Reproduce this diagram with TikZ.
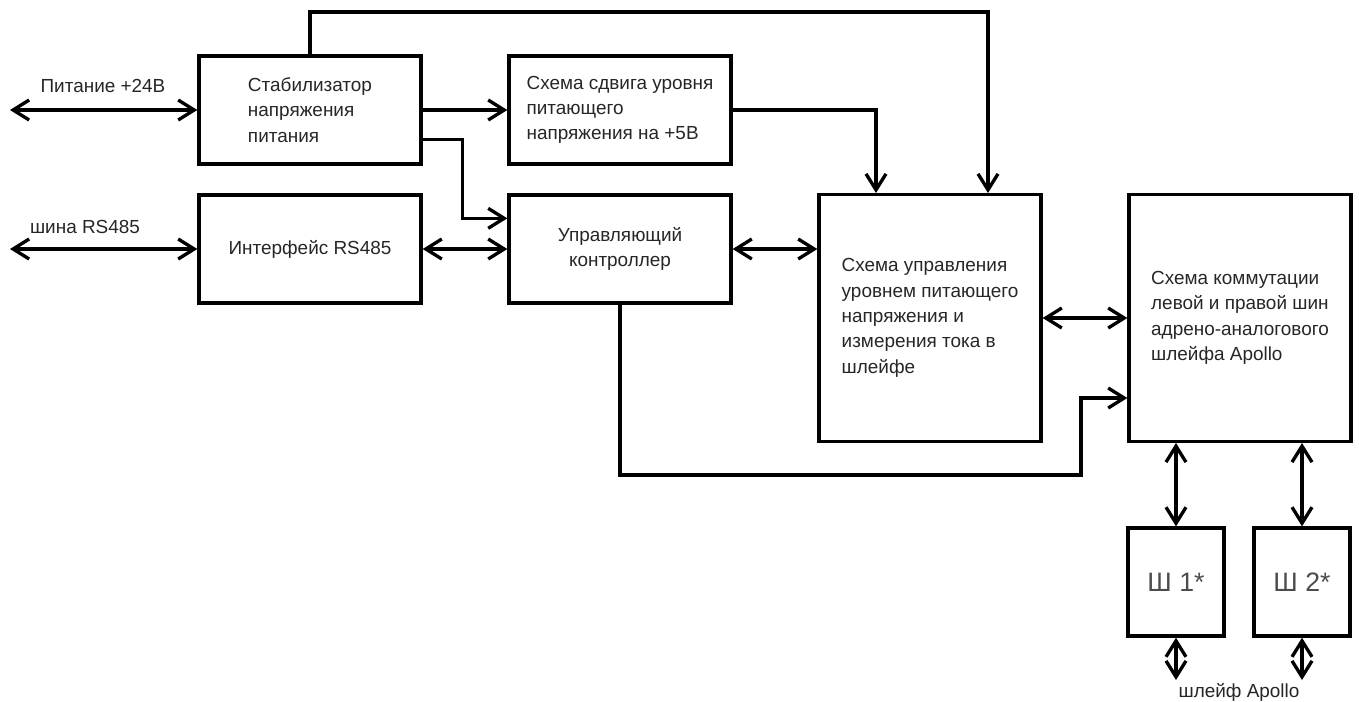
\documentclass[tikz,border=0pt]{standalone}
\usepackage{fontspec}
\setmainfont{Liberation Sans}
\usetikzlibrary{positioning,arrows.meta}
\tikzset{
  blok/.style={draw, line width=2.5pt, inner sep=0pt, minimum width=166.5pt, minimum height=81pt, align=left, text=black!85, font=\fontsize{14.2}{19}\selectfont},
  blokvys/.style={blok, minimum height=185pt},
  shl/.style={blok, minimum width=72pt, minimum height=81pt, text=black!70, font=\fontsize{20}{24}\selectfont},
  podpis/.style={text=black!85, font=\fontsize{14.2}{16}\selectfont},
  strelka/.style={line width=2.5pt, -{Straight Barb[length=12pt,width=15pt]}},
  dvustr/.style={line width=2.5pt, {Straight Barb[length=12pt,width=15pt]}-{Straight Barb[length=12pt,width=15pt]}},
}
\begin{document}
\begin{tikzpicture}[x=0.75pt, y=-0.75pt]
          \useasboundingbox (0,0) rectangle (1359,701);
          \node[blok] (stab) at (310,110) {Стабилизатор\\напряжения\\питания};
          \node[blok] (iface) at (310,249) {Интерфейс RS485};
          \node[blok] (shift) at (620,110) {Схема сдвига уровня\\питающего\\напряжения на +5В};
          \node[blok, align=center] (ctrl) at (620,249) {Управляющий\\контроллер};
          \node[blokvys] (meas) at (930,318) {Схема управления\\уровнем питающего\\напряжения и\\измерения тока в\\шлейфе};
          \node[blokvys] (comm) at (1240,318) {Схема коммутации\\левой и правой шин\\адрено-аналогового\\шлейфа Apollo};
          \node[shl] (sh1) at (1176,582) {Ш 1*};
          \node[shl] (sh2) at (1302,582) {Ш 2*};
          \node[podpis] (lpit) at (103,86) {Питание +24В};
          \node[podpis] (lbus) at (85,227) {шина RS485};
          \node[podpis] (lapo) at (1239,692) {шлейф Apollo};
          \coordinate (pit) at (10,110);
          \coordinate (bus) at (10,249);
          \coordinate (apo1) at (1176,680);
          \coordinate (apo2) at (1302,680);
          \draw[dvustr] (pit) -- (stab.west);
          \draw[dvustr] (bus) -- (iface.west);
          \draw[strelka] (stab.east) -- (shift.west);
          \draw[strelka] ([yshift=-22pt]stab.east) -- ++(40,0) |- ([yshift=23pt]ctrl.west);
          \draw[dvustr] (iface.east) -- (ctrl.west);
          \draw[dvustr] (ctrl.east) -- (ctrl.east -| meas.west);
          \draw[strelka] (shift.east) -| ([xshift=-40.5pt]meas.north);
          \draw[strelka] (stab.north) -- (stab.north |- 0,12) -| ([xshift=43.5pt]meas.north);
          \draw[dvustr] (meas.east) -- (comm.west);
          \draw[strelka] (ctrl.south) |- (1081,475) |- ([yshift=-60pt]comm.west);
          \draw[dvustr] (sh1.north |- comm.south) -- (sh1.north);
          \draw[dvustr] (sh2.north |- comm.south) -- (sh2.north);
          \draw[dvustr] (sh1.south) -- (apo1);
          \draw[dvustr] (sh2.south) -- (apo2);
        \end{tikzpicture}
\end{document}
